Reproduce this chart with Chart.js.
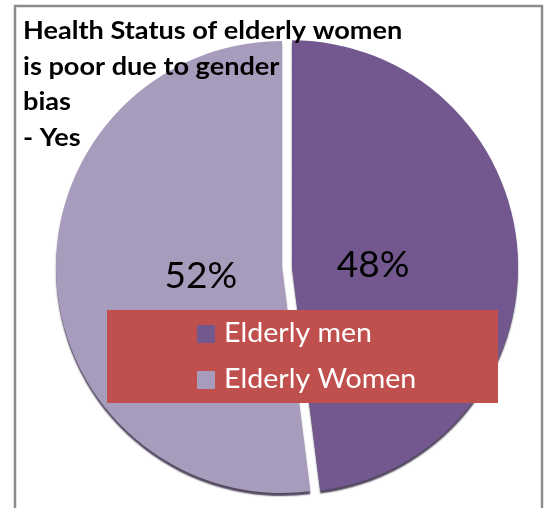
<!DOCTYPE html>
<html>
<head>
<meta charset="utf-8">
<script src="https://cdn.jsdelivr.net/npm/chart.js@4.4.0/dist/chart.umd.min.js"></script>
<style>
    html, body { margin: 0; padding: 0; background: #fff; }
    #wrap { width: 545px; height: 508px; }
</style>
</head>
<body>
<div id="wrap"><canvas id="myChart" width="545" height="508"></canvas></div>
<script>
// ------------- data -------------

const title_lines = ['Health Status of elderly women', 'is poor due to gender', 'bias', '- Yes'];
const labels = ['Elderly men', 'Elderly Women'];
const list_percent = [48, 52];

const colors = ['#72588E', '#A89CBC'];
const explode = [10, 0];

// text a bit wider than Lato, like the original (Calibri, stretched picture)
function wideText(c, text, x, y, sx) {
    c.save();
    c.translate(x, y);
    c.scale(sx, 1);
    c.fillText(text, 0, 0);
    c.restore();
}

// ------------- extra drawing (frame, title, labels, legend box) -------------

const decorations = {
    id: 'decorations',
    afterDatasetsUpdate(chart) {
        // pull slices out of the pie along their middle angle
        chart.getDatasetMeta(0).data.forEach((arc, i) => {
            const mid = (arc.startAngle + arc.endAngle) / 2;
            arc.x += Math.cos(mid) * explode[i];
            arc.y += Math.sin(mid) * explode[i];
        });
    },
    beforeDraw(chart) {
        const c = chart.ctx;
        c.save();
        c.fillStyle = '#fff';
        c.fillRect(0, 0, chart.width, chart.height);
        c.strokeStyle = '#8c8c8c';
        c.lineWidth = 2.5;
        c.strokeRect(15, 6, 527, 600);
        c.restore();
    },
    beforeDatasetsDraw(chart) {
        // dark rim under the slices (3d look)
        const c = chart.ctx;
        c.save();
        c.shadowColor = 'rgba(62, 52, 78, 0.9)';
        c.shadowOffsetY = 3;
        c.shadowBlur = 1.5;
    },
    afterDatasetsDraw(chart) {
        const c = chart.ctx;
        c.restore();
        const arcs = chart.getDatasetMeta(0).data;
        c.save();

        // percentages inside the slices
        c.fillStyle = '#000';
        c.font = '36px Lato';
        c.textAlign = 'center';
        c.textBaseline = 'middle';
        arcs.forEach((arc, i) => {
            const mid = (arc.startAngle + arc.endAngle) / 2;
            const d = arc.outerRadius * 0.36;
            wideText(c, list_percent[i] + '%', arc.x + Math.cos(mid) * d, arc.y + Math.sin(mid) * d + 4, 1.03);
        });

        // legend on red box
        c.fillStyle = '#C0504D';
        c.fillRect(107, 310, 391, 93);
        c.font = '26px Lato';
        c.textAlign = 'left';
        labels.forEach((lab, i) => {
            const y = 325 + i * 46;
            c.fillStyle = colors[i];
            c.fillRect(197, y, 18, 18);
            c.fillStyle = '#fff';
            wideText(c, lab, 224, y + 9, 1.1);
        });

        c.restore();
    },
    afterDraw(chart) {
        const c = chart.ctx;
        c.save();
        c.fillStyle = '#000';
        c.font = 'bold 24px Lato';
        c.textAlign = 'left';
        c.textBaseline = 'alphabetic';
        title_lines.forEach((line, i) => {
            wideText(c, line, 23, 39 + i * 35.5, 1.13);
        });
        c.restore();
    }
};

const data = {
    labels: labels,
    datasets: [{
        data: list_percent,
        backgroundColor: colors,
        borderWidth: 0
    }]
};

const ctx = document.getElementById('myChart').getContext('2d');

const myChart = new Chart(ctx, {
    type: 'pie',
    data: data,
    plugins: [decorations],
    options: {
        responsive: false,
        animation: false,
        devicePixelRatio: 1,
        radius: 226,
        layout: {
            padding: { left: 19, right: 0, top: 26, bottom: 0 }
        },
        plugins: {
            legend: { display: false },
            tooltip: { enabled: false },
            title: { display: false }
        }
    }
});
</script>
</body>
</html>
